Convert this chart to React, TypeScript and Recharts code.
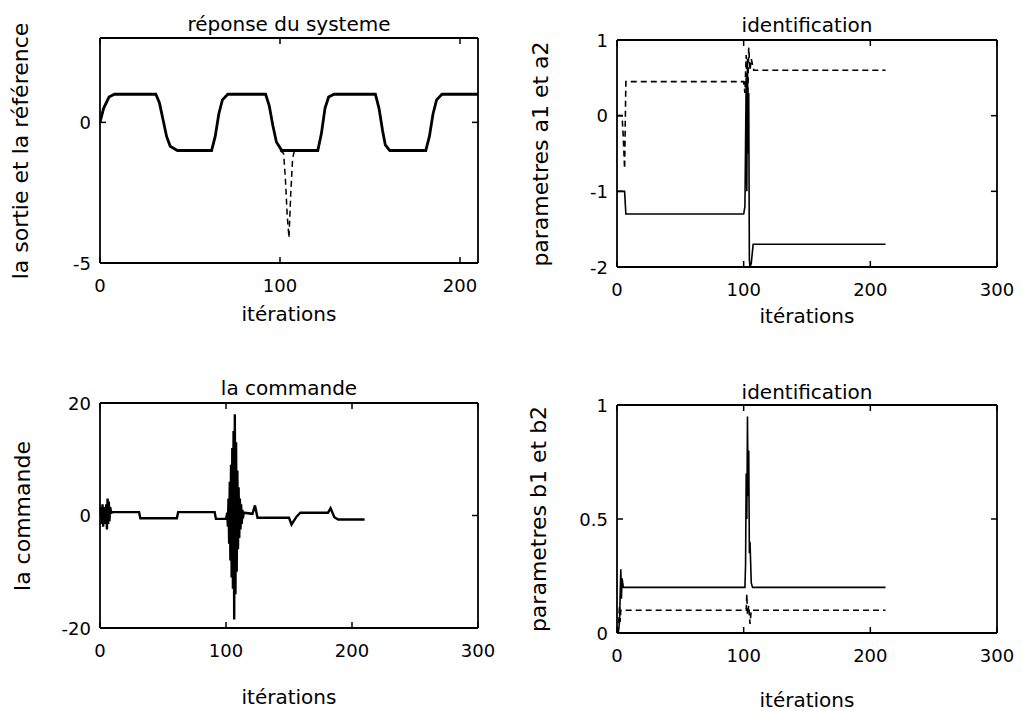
import React from 'react';
import { LineChart, Line, XAxis, YAxis } from 'recharts';

// ---- Panel 1 : réponse du systeme ----
const p1SortieX = [0, 2, 5, 8, 31, 33, 35, 37, 39, 43, 62, 64, 66, 68, 71, 92, 94, 96, 98, 101, 121, 123, 125, 127, 130, 153, 155, 157, 158.5, 161, 181, 183, 185, 187, 190, 210];
const p1SortieY = [0, 0.5, 0.9, 1, 1, 0.7, 0.1, -0.5, -0.85, -1, -1, -0.5, 0.3, 0.8, 1, 1, 0.6, -0.1, -0.7, -1, -1, -0.4, 0.5, 0.9, 1, 1, 0.5, -0.3, -0.8, -1, -1, -0.5, 0.3, 0.8, 1, 1];
const p1SpikeX = [100, 102, 103, 104, 105, 106, 107, 108];
const p1SpikeY = [-1, -1.1, -2, -3.3, -4.1, -2.5, -1.3, -1];

// ---- Panel 2 : identification a1, a2 ----
const p2A1X = [0, 6, 7, 100, 101, 102, 102.5, 103, 103.5, 104, 104.5, 105, 106, 107.5, 212];
const p2A1Y = [-1, -1, -1.3, -1.3, -1.2, 0.5, -1.0, 0.75, -0.5, 0.3, -1.9, -2, -1.95, -1.7, -1.7];
const p2A2X = [0, 4, 5, 6, 7, 100, 101, 102, 103, 104, 105, 106, 108, 212];
const p2A2Y = [0, 0, -0.3, -0.7, 0.45, 0.45, 0.3, 0.8, 0.1, 0.9, 0.6, 0.75, 0.6, 0.6];

// ---- Panel 3 : la commande ----
const p3X = [0, 1, 1.5, 2, 2.5, 3, 3.5, 4, 4.5, 5, 5.5, 6, 6.5, 7, 7.5, 8, 9, 10, 31, 32, 61, 62, 91, 92, 100, 101, 101.5, 102, 102.5, 103, 103.5, 104, 104.5, 105, 105.5, 106, 106.5, 107, 107.5, 108, 108.5, 109, 109.5, 110, 110.5, 111, 111.5, 112, 112.5, 113, 113.5, 114, 121, 123, 125, 150, 152, 156, 159, 181, 183, 186, 189, 210];
const p3Y = [0, 1.5, -1.5, 2, -2, 1.5, -1, 1, -1.5, 2, -2.5, 3, -1.5, 2.5, -1, 1.5, 0.5, 0.6, 0.6, -0.5, -0.5, 0.6, 0.6, -0.6, -0.6, 0.5, -2, 3, -5, 6, -8, 9, -11, 12, -13, 15, -18.5, 18, -14, 13, -10, 8, -6, 5, -4, 3, -2.5, 2, -1.5, 1, -0.5, 0.5, 0.3, 1.8, -0.4, -0.4, -1.6, -0.2, 0.5, 0.5, 1.3, -0.3, -0.7, -0.7];

// ---- Panel 4 : identification b1, b2 ----
const p4B1X = [0, 1, 2, 3, 3.5, 4, 5, 101, 101.5, 102, 102.5, 103, 103.5, 104, 104.5, 105, 106, 107, 212];
const p4B1Y = [0, 0, 0.05, 0.28, 0.15, 0.24, 0.2, 0.2, 0.3, 0.7, 0.5, 0.95, 0.6, 0.8, 0.35, 0.4, 0.22, 0.2, 0.2];
const p4B2X = [0, 1, 2, 2.5, 3, 102, 102.5, 103, 104, 105, 106, 212];
const p4B2Y = [0, 0.01, 0.12, 0.05, 0.1, 0.1, 0.17, 0.08, 0.12, 0.04, 0.1, 0.1];

const titles = ['réponse du systeme', 'identification', 'la commande', 'identification'];
const yLabels = ['la sortie et la référence', 'parametres a1 et a2', 'la commande', 'parametres b1 et b2'];
const xLabel = 'itérations';

const FONT = '"DejaVu Sans", sans-serif';
const TL = 6; // inward tick length

const toPts = (xs: number[], ys: number[]) => xs.map((x, i) => ({ x, y: ys[i] }));

type S = { xs: number[]; ys: number[]; dashed?: boolean; w: number };
type P = {
  L: number; T: number; R: number; B: number;
  xDomain: [number, number]; yDomain: [number, number];
  xTicks: number[]; yTicks: number[];
  series: S[];
  title: string; titleY: number;
  yLabel: string; yLabelX: number;
  xLabelY: number;
};

function Panel(p: P) {
  const YW = 60, XH = 40;
  const margin = { left: p.L - YW, top: p.T - 1, right: 1023 - p.R - 1, bottom: 711 - p.B - XH };
  const axisCommon = { stroke: '#000', strokeWidth: 1.8 };

  const bottomTick = (t: any) => {
    const cx = t.payload.coordinate;
    return (
      <g>
        <line x1={cx} x2={cx} y1={p.B} y2={p.B - TL} stroke="#000" strokeWidth={1.5} />
        <text x={cx} y={p.B + 29} textAnchor="middle" fontSize={18} fontFamily={FONT} fill="#000">{t.payload.value}</text>
      </g>
    );
  };
  const topTick = (t: any) => {
    const cx = t.payload.coordinate;
    return <line x1={cx} x2={cx} y1={p.T} y2={p.T + TL} stroke="#000" strokeWidth={1.5} />;
  };
  const leftTick = (t: any) => {
    const cy = t.payload.coordinate;
    return (
      <g>
        <line x1={p.L} x2={p.L + TL} y1={cy} y2={cy} stroke="#000" strokeWidth={1.5} />
        <text x={p.L - 9} y={cy + 6.5} textAnchor="end" fontSize={18} fontFamily={FONT} fill="#000">{t.payload.value}</text>
      </g>
    );
  };
  const rightTick = (t: any) => {
    const cy = t.payload.coordinate;
    return <line x1={p.R} x2={p.R - TL} y1={cy} y2={cy} stroke="#000" strokeWidth={1.5} />;
  };

  return (
    <>
      <div style={{ position: 'absolute', left: 0, top: 0 }}>
        <LineChart width={1023} height={711} margin={margin}>
          <XAxis xAxisId="b" dataKey="x" type="number" domain={p.xDomain} allowDataOverflow ticks={p.xTicks}
            height={XH} tickLine={false} tick={bottomTick} axisLine={axisCommon} />
          <XAxis xAxisId="t" orientation="top" dataKey="x" type="number" domain={p.xDomain} allowDataOverflow ticks={p.xTicks}
            height={1} tickLine={false} tick={topTick} axisLine={axisCommon} />
          <YAxis yAxisId="l" type="number" domain={p.yDomain} allowDataOverflow ticks={p.yTicks}
            width={YW} tickLine={false} tick={leftTick} axisLine={axisCommon} />
          <YAxis yAxisId="r" orientation="right" type="number" domain={p.yDomain} allowDataOverflow ticks={p.yTicks}
            width={1} tickLine={false} tick={rightTick} axisLine={axisCommon} />
          {p.series.map((s, i) => (
            <Line key={i} xAxisId="b" yAxisId="l" data={toPts(s.xs, s.ys)} dataKey="y" type="linear" dot={false}
              stroke="#000" strokeWidth={s.w} strokeDasharray={s.dashed ? '6 4' : undefined} isAnimationActive={false} />
          ))}
        </LineChart>
      </div>
      <div style={{ position: 'absolute', left: (p.L + p.R) / 2, top: p.titleY, transform: 'translate(-50%, -50%)', fontSize: 20, fontFamily: FONT, whiteSpace: 'nowrap', color: '#000' }}>{p.title}</div>
      <div style={{ position: 'absolute', left: (p.L + p.R) / 2, top: p.xLabelY, transform: 'translate(-50%, -50%)', fontSize: 20, fontFamily: FONT, whiteSpace: 'nowrap', color: '#000' }}>{xLabel}</div>
      <div style={{ position: 'absolute', left: p.yLabelX, top: (p.T + p.B) / 2, transform: 'translate(-50%, -50%) rotate(-90deg)', fontSize: 22, fontFamily: FONT, whiteSpace: 'nowrap', color: '#000' }}>{p.yLabel}</div>
    </>
  );
}

export default function App() {
  return (
    <div style={{ position: 'absolute', left: 0, top: 0, width: 1023, height: 711, background: '#fff', overflow: 'hidden' }}>
      <Panel L={100} T={38} R={478} B={263} xDomain={[0, 210]} yDomain={[-5, 3]} xTicks={[0, 100, 200]} yTicks={[-5, 0]}
        series={[{ xs: p1SortieX, ys: p1SortieY, w: 2.8 }, { xs: p1SpikeX, ys: p1SpikeY, w: 1.5, dashed: true }]}
        title={titles[0]} titleY={24} yLabel={yLabels[0]} yLabelX={20} xLabelY={314} />
      <Panel L={617} T={40} R={997} B={267} xDomain={[0, 300]} yDomain={[-2, 1]} xTicks={[0, 100, 200, 300]} yTicks={[-2, -1, 0, 1]}
        series={[{ xs: p2A1X, ys: p2A1Y, w: 1.6 }, { xs: p2A2X, ys: p2A2Y, w: 1.6, dashed: true }]}
        title={titles[1]} titleY={25} yLabel={yLabels[1]} yLabelX={540} xLabelY={316} />
      <Panel L={100} T={403} R={478} B={628} xDomain={[0, 300]} yDomain={[-20, 20]} xTicks={[0, 100, 200, 300]} yTicks={[-20, 0, 20]}
        series={[{ xs: p3X, ys: p3Y, w: 2.4 }]}
        title={titles[2]} titleY={388} yLabel={yLabels[2]} yLabelX={22} xLabelY={697} />
      <Panel L={617} T={405} R={997} B={633} xDomain={[0, 300]} yDomain={[0, 1]} xTicks={[0, 100, 200, 300]} yTicks={[0, 0.5, 1]}
        series={[{ xs: p4B1X, ys: p4B1Y, w: 1.6 }, { xs: p4B2X, ys: p4B2Y, w: 1.6, dashed: true }]}
        title={titles[3]} titleY={392} yLabel={yLabels[3]} yLabelX={538} xLabelY={700} />
    </div>
  );
}
